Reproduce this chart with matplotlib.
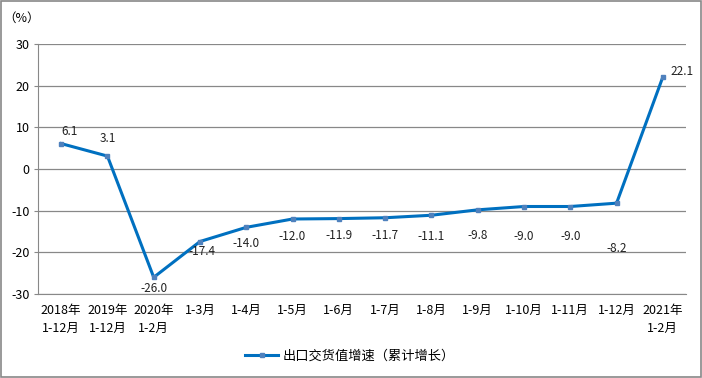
import matplotlib.pyplot as plt
from matplotlib.patches import Rectangle

plt.rcParams['font.family'] = ['Noto Sans CJK SC', 'DejaVu Sans']
plt.rcParams['axes.unicode_minus'] = False

# data
categories = ['2018年\n1-12月', '2019年\n1-12月', '2020年\n1-2月', '1-3月', '1-4月', '1-5月',
              '1-6月', '1-7月', '1-8月', '1-9月', '1-10月', '1-11月', '1-12月', '2021年\n1-2月']
values = [6.1, 3.1, -26.0, -17.4, -14.0, -12.0, -11.9, -11.7, -11.1, -9.8, -9.0, -9.0, -8.2, 22.1]
series_name = '出口交货值增速（累计增长）'

# label offsets in pixels
label_offsets = [(8, 12), (0, 18), (0, -11), (2, -10), (0, -16), (0, -17), (0, -17), (0, -18),
                 (0, -21), (0, -26), (0, -30), (0, -30), (0, -45), (19, 5)]

fig = plt.figure(figsize=(7.02, 3.78), dpi=100)
ax = fig.add_axes([38/702, 1-294/378, 648/702, 250/378])

x = list(range(len(values)))
line, = ax.plot(x, values, color='#0070C0', linewidth=2.2, marker='s', markersize=3,
                markerfacecolor='#4F81BD', markeredgecolor='#4F81BD', label=series_name)

for i, v in enumerate(values):
    ax.annotate(f'{v:.1f}', (i, v), xytext=label_offsets[i], textcoords='offset pixels',
                ha='center', va='center', fontsize=8.5, color='#222222')

ax.set_xlim(-0.5, len(values) - 0.5)
ax.set_ylim(-30, 30)
ax.set_yticks(range(-30, 31, 10))
ax.set_xticks(x)
ax.set_xticklabels(categories, fontsize=9, linespacing=1.5)
ax.tick_params(axis='y', labelsize=9, length=3, color='#888888', pad=3)
ax.tick_params(axis='x', length=0, pad=7)
ax.grid(axis='y', color='#888888', linewidth=0.9)
ax.set_axisbelow(True)
for s in ['top', 'right']:
    ax.spines[s].set_visible(False)
ax.spines['left'].set_color('#888888')
ax.spines['bottom'].set_color('#888888')

fig.text(22/702, 1-18/378, '（%）', fontsize=9, ha='center', va='center')

fig.legend(handles=[line], loc='center', bbox_to_anchor=(350/702, 1-356/378), frameon=False,
           fontsize=9.5, handlelength=2.5, handletextpad=0.3)

fig.patches.append(Rectangle((0.001, 0.002), 0.997, 0.995, transform=fig.transFigure,
                             fill=False, edgecolor='#888888', linewidth=1.2))

fig.savefig('out.png', dpi=100)
